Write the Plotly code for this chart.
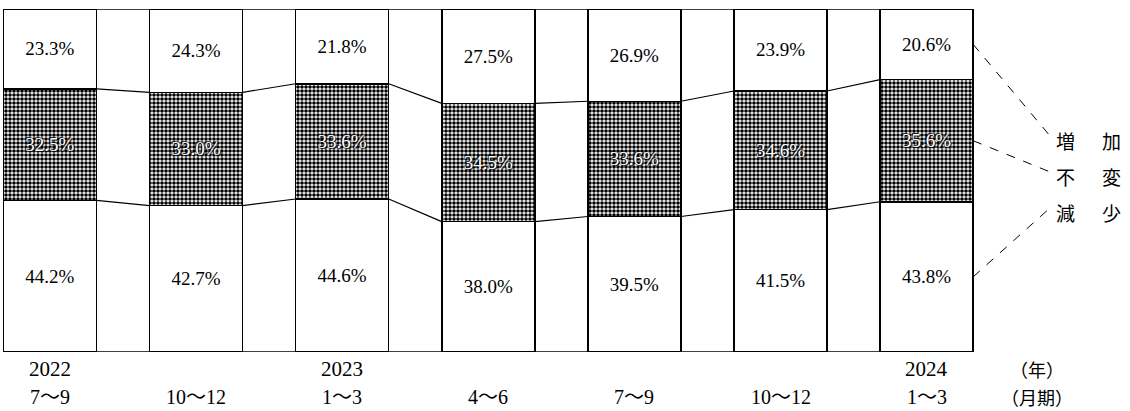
import plotly.graph_objects as go

# ---- data ----
periods = ["7～9", "10～12", "1～3", "4～6", "7～9", "10～12", "1～3"]
years = ["2022", "", "2023", "", "", "", "2024"]
increase = [23.3, 24.3, 21.8, 27.5, 26.9, 23.9, 20.6]
unchanged = [32.5, 33.0, 33.6, 34.5, 33.6, 34.6, 35.6]
decrease = [44.2, 42.7, 44.6, 38.0, 39.5, 41.5, 43.8]
legend_labels = ["増加", "不変", "減少"]
year_unit = "（年）"
period_unit = "（月期）"

# ---- layout constants ----
W, H = 1130, 411
X0, X1 = -0.342, 7.392           # x range (plot spans whole width)
BW = 0.637                        # bar width
SERIF = "Liberation Serif, Noto Sans CJK JP"
CJK = "Noto Sans CJK JP"

idx = list(range(len(periods)))


def px_to_x(px):
    return X0 + px / W * (X1 - X0)


fig = go.Figure()
common = dict(width=BW, textposition="inside", insidetextanchor="middle",
              textangle=0, constraintext="none", hoverinfo="skip")

fig.add_trace(go.Bar(
    x=idx, y=decrease, name="減少",
    marker=dict(color="white", line=dict(color="black", width=1.5)),
    text=[f"{v:.1f}%" for v in decrease],
    textfont=dict(family=SERIF, size=19, color="black"), **common))

fig.add_trace(go.Bar(
    x=idx, y=unchanged, name="不変",
    marker=dict(color="white", line=dict(color="black", width=1.5),
                pattern=dict(shape=".", fgcolor="black", bgcolor="white",
                             size=4, solidity=0.65, fillmode="replace")),
    text=[f"{v:.1f}%" for v in unchanged],
    textfont=dict(family=SERIF, size=19, color="white",
                  shadow="1px 1px 1px black, -1px -1px 1px black"), **common))

fig.add_trace(go.Bar(
    x=idx, y=increase, name="増加",
    marker=dict(color="white", line=dict(color="black", width=1.5)),
    text=[f"{v:.1f}%" for v in increase],
    textfont=dict(family=SERIF, size=19, color="black"), **common))

# connecting lines between bars at segment boundaries
lx, ly = [], []
for i in range(len(idx) - 1):
    for bnd in (lambda k: decrease[k], lambda k: decrease[k] + unchanged[k]):
        lx += [idx[i] + BW / 2, idx[i + 1] - BW / 2, None]
        ly += [bnd(i), bnd(i + 1), None]
fig.add_trace(go.Scatter(x=lx, y=ly, mode="lines",
                         line=dict(color="black", width=1.2),
                         hoverinfo="skip", showlegend=False))

# frame top / bottom lines
for yv in (0, 100):
    fig.add_shape(type="line", xref="x", yref="y",
                  x0=idx[0] - BW / 2, x1=idx[-1] + BW / 2, y0=yv, y1=yv,
                  line=dict(color="black", width=1.5))

# leader lines (dashed) from last bar to legend labels
last = idx[-1]
seg_centres = [
    decrease[last] + unchanged[last] + increase[last] / 2,
    decrease[last] + unchanged[last] / 2,
    decrease[last] / 2,
]
label_y = [61.8, 51.3, 40.8]   # paper*100 (same as data y)
for sc, ly_ in zip(seg_centres, label_y):
    fig.add_shape(type="line", xref="x", yref="y",
                  x0=last + BW / 2, y0=sc, x1=px_to_x(1050), y1=ly_ + 1.2,
                  line=dict(color="black", width=1, dash="dash"))

# legend labels (two characters spaced apart)
for lab, ly_ in zip(legend_labels, label_y):
    for ch, cx in zip(lab, (1065, 1111)):
        fig.add_annotation(x=cx / W, y=ly_ / 100, xref="paper", yref="paper",
                           text=ch, showarrow=False, xanchor="center",
                           yanchor="middle",
                           font=dict(family=CJK, size=19, color="black"))

# category labels
YEAR_Y, PERIOD_Y = -0.0496, -0.1312
for i in idx:
    if years[i]:
        fig.add_annotation(x=i, y=YEAR_Y, xref="x", yref="paper",
                           text=years[i], showarrow=False, xanchor="center",
                           yanchor="middle",
                           font=dict(family=SERIF, size=21, color="black"))
    fig.add_annotation(x=i, y=PERIOD_Y, xref="x", yref="paper",
                       text=periods[i], showarrow=False, xanchor="center",
                       yanchor="middle",
                       font=dict(family=SERIF, size=20, color="black"))
fig.add_annotation(x=1037 / W, y=YEAR_Y, xref="paper", yref="paper",
                   text=year_unit, showarrow=False, xanchor="center",
                   yanchor="middle",
                   font=dict(family=CJK, size=18, color="black"))
fig.add_annotation(x=1037 / W, y=PERIOD_Y, xref="paper", yref="paper",
                   text=period_unit, showarrow=False, xanchor="center",
                   yanchor="middle",
                   font=dict(family=CJK, size=18, color="black"))

fig.update_layout(
    width=W, height=H, barmode="stack", showlegend=False,
    margin=dict(l=0, r=0, t=9, b=59),
    paper_bgcolor="white", plot_bgcolor="white",
    xaxis=dict(range=[X0, X1], visible=False, fixedrange=True),
    yaxis=dict(range=[0, 100], visible=False, fixedrange=True),
)

# remove the default 8px page margin so the figure sits at the window origin
fig.write_html(
    "out.html",
    config={"displayModeBar": False},
    post_script="document.body.style.margin='0';"
                "document.body.style.overflow='hidden';",
)
